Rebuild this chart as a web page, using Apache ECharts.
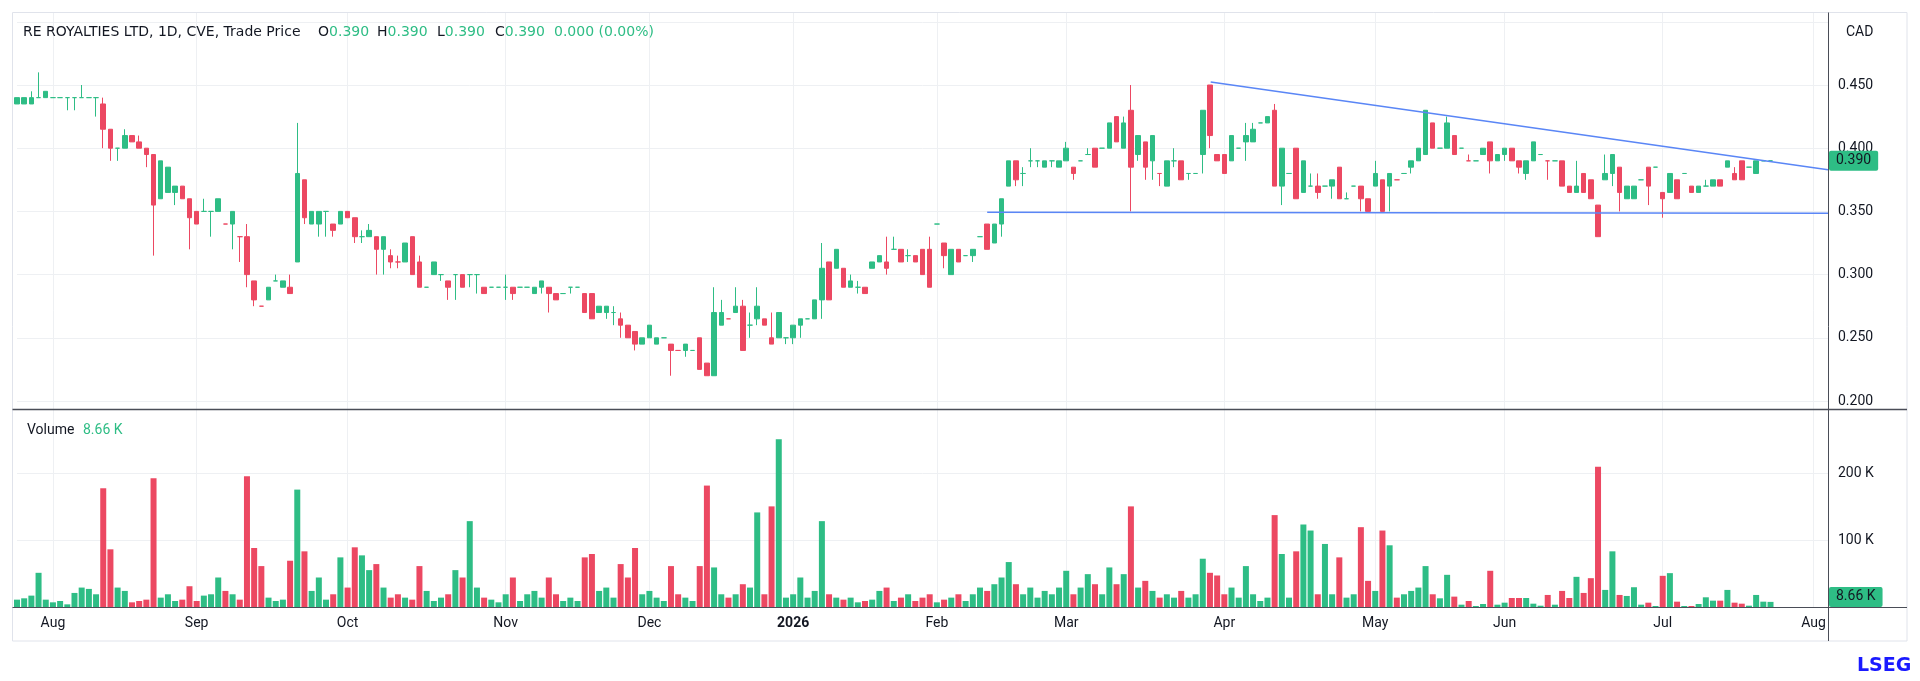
<!DOCTYPE html>
<html><head><meta charset="utf-8">
<script src="https://cdn.jsdelivr.net/npm/echarts@6/dist/echarts.min.js"></script>
<style>html,body{margin:0;padding:0;background:#fff}#c{width:1920px;height:681px}</style>
</head><body><div id="c"></div>
<script>
// ---- data ----
const monthLabels = ['Aug','Sep','Oct','Nov','Dec','2026','Feb','Mar','Apr','May','Jun','Jul','Aug'];
const monthStarts = [5,25,46,68,88,108,128,146,168,189,207,229,250];
const N_SLOTS = 253;
// [open, high, low, close]
const ohlc = [
[.435,.440,.435,.440],[.435,.440,.435,.440],[.435,.445,.435,.440],[.440,.460,.440,.440],[.440,.445,.440,.445],
[.440,.440,.440,.440],[.440,.440,.440,.440],[.440,.440,.430,.440],[.440,.440,.430,.440],[.440,.450,.440,.440],
[.440,.440,.440,.440],[.440,.440,.425,.440],[.435,.440,.400,.415],[.415,.415,.390,.400],[.400,.400,.390,.400],
[.400,.415,.400,.410],[.410,.410,.405,.405],[.405,.410,.400,.400],[.400,.400,.385,.395],[.395,.395,.315,.355],
[.360,.390,.360,.390],[.365,.385,.365,.385],[.365,.370,.355,.370],[.370,.370,.360,.360],[.360,.360,.320,.345],
[.350,.350,.340,.340],[.350,.360,.350,.350],[.350,.350,.330,.350],[.350,.360,.350,.360],[.340,.340,.340,.340],
[.340,.350,.320,.350],[.330,.330,.310,.330],[.330,.340,.290,.300],[.295,.295,.275,.280],[.275,.275,.275,.275],
[.280,.290,.280,.290],[.295,.300,.295,.295],[.290,.295,.290,.295],[.290,.300,.285,.285],[.310,.420,.310,.380],
[.375,.375,.340,.345],[.340,.350,.340,.350],[.340,.350,.330,.350],[.350,.350,.330,.350],[.340,.340,.330,.335],
[.340,.350,.340,.350],[.350,.350,.345,.345],[.345,.345,.325,.330],[.330,.335,.325,.330],[.330,.340,.330,.335],
[.330,.330,.300,.320],[.320,.330,.300,.330],[.315,.320,.305,.310],[.310,.315,.305,.310],[.310,.325,.310,.325],
[.330,.330,.300,.300],[.310,.315,.290,.290],[.290,.290,.290,.290],[.300,.310,.300,.310],[.300,.300,.295,.300],
[.295,.295,.280,.290],[.300,.300,.280,.300],[.300,.300,.290,.290],[.300,.300,.290,.300],[.300,.300,.285,.300],
[.290,.290,.285,.285],[.290,.290,.290,.290],[.290,.290,.290,.290],[.290,.300,.280,.290],[.290,.290,.280,.285],
[.290,.290,.290,.290],[.290,.290,.290,.290],[.285,.290,.285,.290],[.290,.295,.285,.295],[.290,.290,.270,.285],
[.285,.285,.280,.280],[.285,.285,.285,.285],[.290,.290,.285,.290],[.290,.290,.290,.290],[.285,.285,.270,.270],
[.285,.285,.265,.265],[.270,.275,.270,.275],[.270,.275,.265,.275],[.270,.275,.260,.270],[.265,.270,.250,.260],
[.260,.260,.250,.250],[.255,.255,.240,.245],[.245,.250,.245,.250],[.250,.260,.250,.260],[.245,.250,.245,.250],
[.250,.250,.250,.250],[.245,.245,.220,.240],[.240,.240,.240,.240],[.240,.245,.235,.245],[.240,.240,.240,.240],
[.250,.250,.225,.225],[.230,.230,.220,.220],[.220,.290,.220,.270],[.260,.280,.260,.270],[.265,.265,.265,.265],
[.270,.290,.270,.275],[.275,.280,.240,.240],[.260,.270,.250,.260],[.265,.290,.260,.275],[.265,.265,.260,.260],
[.250,.270,.245,.245],[.250,.270,.250,.270],[.250,.250,.245,.250],[.250,.260,.245,.260],[.260,.265,.250,.265],
[.265,.265,.265,.265],[.265,.280,.265,.280],[.280,.325,.265,.305],[.310,.310,.280,.280],[.305,.320,.305,.320],
[.305,.305,.290,.290],[.290,.300,.290,.295],[.290,.295,.285,.290],[.290,.290,.285,.285],[.305,.310,.305,.310],
[.310,.315,.310,.315],[.310,.330,.300,.305],[.320,.330,.320,.320],[.320,.320,.310,.310],[.315,.320,.310,.315],
[.315,.315,.310,.310],[.320,.320,.300,.300],[.320,.330,.290,.290],[.340,.340,.340,.340],[.325,.325,.305,.315],
[.300,.320,.300,.320],[.320,.320,.310,.310],[.315,.315,.315,.315],[.315,.320,.310,.320],[.330,.330,.330,.330],
[.340,.340,.320,.320],[.325,.340,.325,.340],[.340,.360,.330,.360],[.370,.390,.370,.390],[.390,.390,.370,.375],
[.380,.385,.370,.380],[.390,.400,.385,.390],[.390,.390,.385,.390],[.385,.390,.385,.390],[.390,.390,.385,.390],
[.385,.390,.385,.390],[.390,.405,.390,.400],[.385,.385,.375,.380],[.390,.390,.390,.390],[.395,.400,.395,.395],
[.400,.400,.385,.385],[.400,.400,.400,.400],[.400,.420,.400,.420],[.425,.425,.405,.405],[.400,.425,.400,.420],
[.430,.450,.350,.385],[.395,.410,.390,.410],[.405,.405,.375,.385],[.390,.410,.375,.410],[.380,.380,.370,.380],
[.370,.390,.370,.390],[.390,.400,.385,.390],[.390,.390,.375,.375],[.380,.380,.375,.380],[.380,.380,.380,.380],
[.395,.430,.380,.430],[.450,.450,.400,.410],[.395,.395,.390,.390],[.395,.395,.380,.380],[.390,.410,.390,.410],
[.400,.400,.400,.400],[.405,.420,.390,.410],[.405,.420,.405,.415],[.420,.420,.420,.420],[.420,.425,.420,.425],
[.430,.435,.370,.370],[.370,.400,.355,.400],[.380,.380,.380,.380],[.400,.400,.360,.360],[.365,.390,.365,.390],
[.370,.380,.370,.370],[.370,.380,.360,.365],[.370,.370,.370,.370],[.370,.375,.360,.375],[.385,.385,.360,.360],
[.360,.365,.360,.360],[.370,.370,.370,.370],[.370,.370,.350,.360],[.360,.360,.350,.350],[.370,.390,.370,.380],
[.375,.375,.350,.350],[.370,.380,.350,.380],[.375,.375,.375,.375],[.380,.380,.380,.380],[.385,.390,.380,.390],
[.390,.400,.390,.400],[.395,.430,.395,.430],[.420,.420,.400,.400],[.400,.400,.400,.400],[.400,.425,.400,.420],
[.410,.410,.395,.395],[.400,.400,.400,.400],[.390,.395,.390,.390],[.390,.390,.390,.390],[.395,.400,.395,.400],
[.405,.405,.380,.390],[.390,.395,.390,.395],[.395,.400,.390,.400],[.400,.400,.390,.390],[.390,.390,.380,.385],
[.380,.390,.375,.390],[.390,.405,.390,.405],[.395,.395,.395,.395],[.390,.390,.375,.390],[.390,.390,.390,.390],
[.390,.390,.370,.370],[.370,.370,.365,.365],[.365,.390,.365,.370],[.380,.380,.365,.365],[.375,.375,.360,.360],
[.355,.355,.330,.330],[.375,.395,.375,.380],[.380,.395,.370,.395],[.385,.385,.350,.365],[.360,.370,.360,.370],
[.360,.370,.360,.370],[.375,.375,.375,.375],[.385,.385,.355,.370],[.385,.385,.385,.385],[.365,.365,.345,.360],
[.365,.380,.365,.380],[.375,.375,.360,.360],[.380,.380,.380,.380],[.370,.370,.365,.365],[.365,.370,.365,.370],
[.370,.375,.370,.370],[.370,.375,.370,.375],[.375,.375,.370,.370],[.385,.390,.385,.390],[.380,.385,.375,.375],
[.390,.390,.375,.375],[.385,.385,.385,.385],[.380,.390,.380,.390],[.390,.390,.390,.390],[.390,.390,.390,.390]
];
// daily volume, thousands of shares
const volumeK = [
12,14,18,52,12,8,10,5,22,30,
28,20,178,87,30,25,8,10,12,193,
15,20,10,12,32,10,18,20,45,25,
20,12,196,89,62,15,10,12,70,176,
84,25,45,12,20,75,30,90,78,56,
65,30,15,20,15,12,62,25,10,15,
20,56,45,129,30,15,12,8,20,45,
10,20,25,15,45,20,10,15,10,75,
80,25,30,15,65,45,89,20,25,15,
10,62,20,15,10,62,182,60,20,15,
20,35,30,142,20,151,251,15,20,45,
15,25,129,20,15,12,15,8,10,12,
25,30,10,15,20,10,15,20,8,12,
15,20,10,20,30,25,35,45,68,35,
20,30,15,25,20,30,55,20,30,50,
35,20,60,35,50,151,30,40,25,15,
20,15,25,15,20,73,52,48,20,30,
15,62,20,10,15,138,80,15,84,124,
115,20,95,20,75,15,20,120,40,25,
115,93,15,20,25,30,62,20,
14,49,16.5,4.5,10,2.5,5.5,55,4.5,7.5,
14.5,14.5,14.5,6,3,19,4.5,25,14.5,46,
22,44,210,26.5,84,19,17.5,30.5,4.5,7.5,
2.5,47.5,51.5,9,2.5,2.5,5.5,15.5,10.5,10.5,
26.5,7.5,6,3,19,9,8.66
];
const redDoji = [29,31,34,53,92,99,159,192,202,213];
// trend lines: [bar index, price]
const supportLine = [[135,0.3493],[252,0.3485]];
const resistanceLine = [[166.1,0.4524],[252,0.3830]];
const priceTicksHidden = [0.5];

// ---- styling ----
const UP='#2ebd85', DOWN='#ec4862', TEXT='#131722', GRIDC='#eef0f3', FRAME='#4a4d57', BORDER='#e0e3eb', TREND='#5a86f6';
const FONT='Roboto';
const HFONT='14px "DejaVu Sans"';
const L=17, R=92;

const categories = Array.from({length:N_SLOTS},(_,i)=>{const k=monthStarts.indexOf(i);return k>=0?monthLabels[k]:'';});
const monthSet = new Set(monthStarts);
const redSet = new Set(redDoji);
function dirColor(i){const [o,h,l,c]=ohlc[i]; if(c>o) return UP; if(c<o) return DOWN; return redSet.has(i)?DOWN:UP;}
const candleData = ohlc.map(([o,h,l,c],i)=>{const it={value:[o,c,l,h]}; if(o===c){const col=dirColor(i); it.itemStyle={color:col,color0:col,borderColor:col,borderColor0:col};} return it;});
const volData = volumeK.map((v,i)=>({value:v,itemStyle:{color:dirColor(i)}}));
const last = ohlc[ohlc.length-1], prev = ohlc[ohlc.length-2];
const lastClose = last[3], lastVol = volumeK[volumeK.length-1];
const chg = last[3]-prev[3];
const f3 = v=>v.toFixed(3);

const chart = echarts.init(document.getElementById('c'), null, {renderer:'canvas', width:1920, height:681});
chart.setOption({
  animation:false,
  backgroundColor:'#ffffff',
  textStyle:{fontFamily:FONT},
  grid:[
    {left:L, right:R, top:21.8, height:379.2},
    {left:L, right:R, top:473.5, height:134.2},
    {left:L, right:R, top:12.7, height:595}
  ],
  xAxis:[
    {type:'category', gridIndex:0, data:categories, boundaryGap:false, show:false},
    {type:'category', gridIndex:1, data:categories, boundaryGap:false, show:false},
    {type:'category', gridIndex:2, data:categories, boundaryGap:false,
      axisLine:{show:false}, axisTick:{show:false},
      splitLine:{show:true, interval:(i)=>monthSet.has(i), lineStyle:{color:GRIDC, width:1}},
      axisLabel:{interval:(i)=>monthSet.has(i), margin:9, color:TEXT, fontSize:14, fontFamily:FONT,
        formatter:(v)=>v==='2026'?'{b|2026}':v, rich:{b:{fontWeight:'bold', fontSize:14, color:TEXT, fontFamily:FONT}}}},
    {type:'value', gridIndex:0, min:0, max:N_SLOTS-1, show:false}
  ],
  yAxis:[
    {type:'value', gridIndex:0, position:'right', min:0.2, max:0.5, interval:0.05,
      axisLine:{show:false}, axisTick:{show:false},
      splitLine:{lineStyle:{color:GRIDC}},
      axisLabel:{margin:10, color:TEXT, fontSize:14, fontFamily:FONT, formatter:(v)=>priceTicksHidden.some(t=>Math.abs(t-v)<1e-6)?'':f3(v)}},
    {type:'value', gridIndex:1, position:'right', min:0, max:200, interval:100,
      axisLine:{show:false}, axisTick:{show:false},
      splitLine:{lineStyle:{color:GRIDC}},
      axisLabel:{margin:10, color:TEXT, fontSize:14, fontFamily:FONT, formatter:(v)=>v===0?'':v+' K'}},
    {type:'value', gridIndex:2, show:false}
  ],
  series:[
    {type:'candlestick', xAxisIndex:0, yAxisIndex:0, data:candleData, barWidth:5, clip:false,
      itemStyle:{color:UP, color0:DOWN, borderColor:UP, borderColor0:DOWN, borderWidth:1},
      markLine:{silent:true, symbol:['none','none'], animation:false, lineStyle:{color:'rgba(0,0,0,0)', width:1, type:'solid'},
        data:[{yAxis:lastClose}],
        label:{show:true, position:'end', distance:1, formatter:f3(lastClose), backgroundColor:UP, color:TEXT,
          fontSize:14, fontFamily:FONT, padding:[3,7,3,7], borderRadius:2}}},
    {type:'bar', xAxisIndex:1, yAxisIndex:1, data:volData, barWidth:6, clip:false,
      markLine:{silent:true, symbol:['none','none'], animation:false, lineStyle:{color:'rgba(0,0,0,0)', width:1, type:'solid'},
        data:[{yAxis:lastVol}],
        label:{show:true, position:'end', distance:1, offset:[0,-5], formatter:lastVol.toFixed(2)+' K', backgroundColor:UP, color:TEXT,
          fontSize:14, fontFamily:FONT, padding:[3,7,3,7], borderRadius:2}}},
    {type:'line', xAxisIndex:3, yAxisIndex:0, data:supportLine, symbol:'none', silent:true,
      lineStyle:{color:TREND, width:1.5}, z:5},
    {type:'line', xAxisIndex:3, yAxisIndex:0, data:resistanceLine, symbol:'none', silent:true,
      lineStyle:{color:TREND, width:1.5}, z:5}
  ],
  graphic:[
    {type:'rect', z:50, silent:true, shape:{x:12.5,y:12.5,width:1894.5,height:628.5}, style:{fill:'none', stroke:BORDER, lineWidth:1}},
    {type:'line', z:50, silent:true, shape:{x1:12.5,y1:409.5,x2:1907,y2:409.5}, style:{stroke:FRAME, lineWidth:1.5}},
    {type:'line', z:50, silent:true, shape:{x1:12.5,y1:607.5,x2:1907,y2:607.5}, style:{stroke:FRAME, lineWidth:1}},
    {type:'line', z:50, silent:true, shape:{x1:1828.5,y1:12.5,x2:1828.5,y2:641}, style:{stroke:FRAME, lineWidth:1}},
    {type:'text', z:60, left:23, top:25, style:{text:'RE ROYALTIES LTD, 1D, CVE, Trade Price', fill:TEXT, font:HFONT}},
    {type:'text', z:60, left:318, top:25, style:{text:'O{g|'+f3(last[0])+'}', fill:TEXT, font:HFONT, rich:{g:{fill:UP, font:HFONT}}}},
    {type:'text', z:60, left:377, top:25, style:{text:'H{g|'+f3(last[1])+'}', fill:TEXT, font:HFONT, rich:{g:{fill:UP, font:HFONT}}}},
    {type:'text', z:60, left:437, top:25, style:{text:'L{g|'+f3(last[2])+'}', fill:TEXT, font:HFONT, rich:{g:{fill:UP, font:HFONT}}}},
    {type:'text', z:60, left:495, top:25, style:{text:'C{g|'+f3(last[3])+'}', fill:TEXT, font:HFONT, rich:{g:{fill:UP, font:HFONT}}}},
    {type:'text', z:60, left:554, top:25, style:{text:f3(chg)+' ('+(chg/prev[3]*100).toFixed(2)+'%)', fill:UP, font:HFONT}},
    {type:'text', z:60, left:27, top:423, style:{text:'Volume', fill:TEXT, font:'14px Roboto'}},
    {type:'text', z:60, left:83, top:423, style:{text:lastVol.toFixed(2)+' K', fill:UP, font:'14px Roboto'}},
    {type:'text', z:60, left:1846, top:25, style:{text:'CAD', fill:TEXT, font:'14px Roboto'}},
    {type:'text', z:60, left:1857, top:657, style:{text:'LSEG', fill:'#1a1aff', font:'bold 19px "DejaVu Sans"'}}
  ]
});
</script></body></html>
